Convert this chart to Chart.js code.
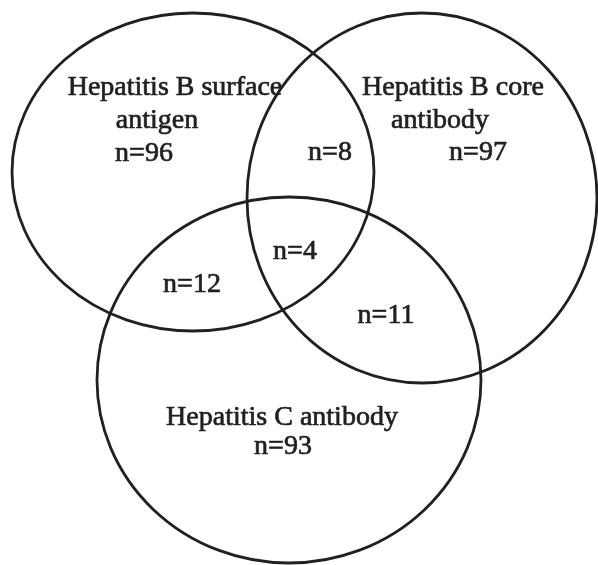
<!DOCTYPE html>
<html>
<head>
<meta charset="utf-8">
<script src="https://cdn.jsdelivr.net/npm/chart.js@4"></script>
<style>
  html, body { margin: 0; padding: 0; background: #fff; }
  #wrap { width: 598px; height: 565px; }
</style>
</head>
<body>
<div id="wrap"><canvas id="venn" width="598" height="565"></canvas></div>
<script>
// sets (one ellipse each)
const setNames = [['Hepatitis B surface', 'antigen'], ['Hepatitis B core', 'antibody'], ['Hepatitis C antibody']];
const setCounts = [96, 97, 93];
// overlaps: A∩B, A∩C, B∩C, A∩B∩C
const overlapCounts = [8, 12, 11, 4];

// ellipse geometry, in scale units
const centerX = [193, 422, 289];
const centerY = [172, 198, 380];
const radiusX = [181, 175, 192];
const radiusY = [159, 185, 183];

// where the texts sit (line centre x, baseline y), in scale units
const nameLineX = [[175, 157], [453, 440], [282]];
const nameLineY = [[95, 128], [95, 128], [425]];
const countX = [144, 478, 283];
const countY = [161, 160, 454];
const overlapX = [330, 192, 386, 295];
const overlapY = [160, 292, 323, 259];

const ink = '#231f20';
const font = '28px "Liberation Serif", "Times New Roman", serif';

const vennPlugin = {
    id: 'venn',
    afterDatasetsDraw(chart) {
        const ctx = chart.ctx;
        const xs = chart.scales.x;
        const ys = chart.scales.y;
        ctx.save();

        // ellipses
        ctx.strokeStyle = ink;
        ctx.lineWidth = 2.8;
        chart.data.datasets[0].data.forEach((p, i) => {
            const cx = xs.getPixelForValue(p.x);
            const cy = ys.getPixelForValue(p.y);
            const rx = Math.abs(xs.getPixelForValue(p.x + radiusX[i]) - cx);
            const ry = Math.abs(ys.getPixelForValue(p.y + radiusY[i]) - cy);
            ctx.beginPath();
            ctx.ellipse(cx, cy, rx, ry, 0, 0, Math.PI * 2);
            ctx.stroke();
        });

        // texts (thin stroke to get the heavier print look)
        ctx.fillStyle = ink;
        ctx.lineWidth = 0.7;
        ctx.font = font;
        ctx.textAlign = 'center';
        ctx.textBaseline = 'alphabetic';
        const put = (txt, x, y) => {
            const px = xs.getPixelForValue(x);
            const py = ys.getPixelForValue(y);
            ctx.fillText(txt, px, py);
            ctx.strokeText(txt, px, py);
        };

        setNames.forEach((lines, i) => {
            lines.forEach((line, j) => put(line, nameLineX[i][j], nameLineY[i][j]));
            put('n=' + setCounts[i], countX[i], countY[i]);
        });
        overlapCounts.forEach((n, i) => put('n=' + n, overlapX[i], overlapY[i]));

        ctx.restore();
    }
};

new Chart(document.getElementById('venn'), {
    type: 'scatter',
    data: {
        datasets: [{
            data: centerX.map((x, i) => ({x: x, y: centerY[i]})),
            pointRadius: 0,
            pointHoverRadius: 0
        }]
    },
    options: {
        responsive: false,
        animation: false,
        layout: {padding: 0},
        plugins: {legend: {display: false}, tooltip: {enabled: false}},
        scales: {
            x: {type: 'linear', min: 0, max: 598, display: false},
            y: {type: 'linear', min: 0, max: 565, reverse: true, display: false}
        }
    },
    plugins: [vennPlugin]
});
</script>
</body>
</html>
